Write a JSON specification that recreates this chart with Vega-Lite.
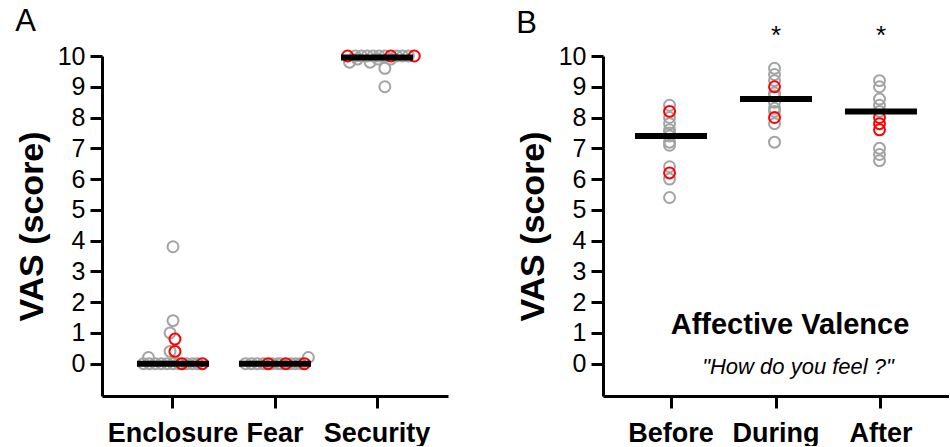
{
  "$schema": "https://vega.github.io/schema/vega-lite/v6.json",
  "padding": {"left": 15, "top": 6, "right": 0, "bottom": 0},
  "config": {
    "font": "Liberation Sans",
    "view": {"stroke": null},
    "axis": {
      "grid": false,
      "domainColor": "black",
      "domainWidth": 3,
      "tickColor": "black",
      "tickWidth": 3,
      "tickSize": 12,
      "labelColor": "black",
      "labelFont": "Liberation Sans",
      "titleColor": "black",
      "titleFont": "Liberation Sans"
    },
    "axisX": {"labelFontSize": 27, "labelFontWeight": "bold", "labelPadding": 12, "labelAngle": 0, "title": null},
    "axisY": {"labelFontSize": 25, "labelPadding": 5, "labelOverlap": false, "titleFontSize": 34, "titleFontWeight": "bold", "titlePadding": 8},
    "title": {"fontSize": 31, "fontWeight": "normal", "anchor": "start", "frame": "bounds", "color": "black", "font": "Liberation Sans"}
  },
  "spacing": 68,
  "hconcat": [
    {
      "width": 346,
      "height": 340,
      "title": {"text": "A", "offset": 6},
      "encoding": {
        "x": {"field": "cond", "type": "nominal", "sort": ["Enclosure", "Fear", "Security"], "scale": {"type": "band", "paddingInner": 0, "paddingOuter": 0.196}},
        "y": {"field": "v", "type": "quantitative", "scale": {"domain": [-1.05, 10], "nice": false, "zero": false}, "axis": {"values": [0, 1, 2, 3, 4, 5, 6, 7, 8, 9, 10], "tickCount": 11, "labelOverlap": false, "title": "VAS (score)"}}
      },
      "layer": [
        {
          "data": {"values": [
            {"cond": "Enclosure", "v": 3.8, "hl": "no", "j": 0},
            {"cond": "Enclosure", "v": 1.4, "hl": "no", "j": 0},
            {"cond": "Enclosure", "v": 1.0, "hl": "no", "j": -3},
            {"cond": "Enclosure", "v": 0.4, "hl": "no", "j": -3},
            {"cond": "Enclosure", "v": 0.2, "hl": "no", "j": -25},
            {"cond": "Enclosure", "v": 0, "hl": "no", "j": -30},
            {"cond": "Enclosure", "v": 0, "hl": "no", "j": -24},
            {"cond": "Enclosure", "v": 0, "hl": "no", "j": -18},
            {"cond": "Enclosure", "v": 0, "hl": "no", "j": -12},
            {"cond": "Enclosure", "v": 0, "hl": "no", "j": -6},
            {"cond": "Enclosure", "v": 0, "hl": "no", "j": 0},
            {"cond": "Enclosure", "v": 0, "hl": "no", "j": 6},
            {"cond": "Enclosure", "v": 0, "hl": "no", "j": 14},
            {"cond": "Enclosure", "v": 0, "hl": "no", "j": 20},
            {"cond": "Enclosure", "v": 0, "hl": "no", "j": 25},
            {"cond": "Fear", "v": 0.2, "hl": "no", "j": 34},
            {"cond": "Fear", "v": 0, "hl": "no", "j": -30},
            {"cond": "Fear", "v": 0, "hl": "no", "j": -24},
            {"cond": "Fear", "v": 0, "hl": "no", "j": -18},
            {"cond": "Fear", "v": 0, "hl": "no", "j": -12},
            {"cond": "Fear", "v": 0, "hl": "no", "j": -3},
            {"cond": "Fear", "v": 0, "hl": "no", "j": 3},
            {"cond": "Fear", "v": 0, "hl": "no", "j": 6},
            {"cond": "Fear", "v": 0, "hl": "no", "j": 16},
            {"cond": "Fear", "v": 0, "hl": "no", "j": 21},
            {"cond": "Fear", "v": 0, "hl": "no", "j": 26},
            {"cond": "Security", "v": 9.0, "hl": "no", "j": 8},
            {"cond": "Security", "v": 9.6, "hl": "no", "j": 8},
            {"cond": "Security", "v": 9.8, "hl": "no", "j": -7},
            {"cond": "Security", "v": 9.8, "hl": "no", "j": -28},
            {"cond": "Security", "v": 9.9, "hl": "no", "j": -20},
            {"cond": "Security", "v": 9.9, "hl": "no", "j": 1},
            {"cond": "Security", "v": 9.9, "hl": "no", "j": 14},
            {"cond": "Security", "v": 10, "hl": "no", "j": -22},
            {"cond": "Security", "v": 10, "hl": "no", "j": -16},
            {"cond": "Security", "v": 10, "hl": "no", "j": -10},
            {"cond": "Security", "v": 10, "hl": "no", "j": -4},
            {"cond": "Security", "v": 10, "hl": "no", "j": 2},
            {"cond": "Security", "v": 10, "hl": "no", "j": 8},
            {"cond": "Security", "v": 10, "hl": "no", "j": 20},
            {"cond": "Security", "v": 10, "hl": "no", "j": 26},
            {"cond": "Security", "v": 10, "hl": "no", "j": 32},
            {"cond": "Enclosure", "v": 0.8, "hl": "yes", "j": 2},
            {"cond": "Enclosure", "v": 0.4, "hl": "yes", "j": 2},
            {"cond": "Enclosure", "v": 0, "hl": "yes", "j": 9},
            {"cond": "Enclosure", "v": 0, "hl": "yes", "j": 30},
            {"cond": "Fear", "v": 0, "hl": "yes", "j": -7},
            {"cond": "Fear", "v": 0, "hl": "yes", "j": 11},
            {"cond": "Fear", "v": 0, "hl": "yes", "j": 30},
            {"cond": "Security", "v": 10, "hl": "yes", "j": -30},
            {"cond": "Security", "v": 10, "hl": "yes", "j": 14},
            {"cond": "Security", "v": 10, "hl": "yes", "j": 38}
          ]},
          "mark": {"type": "point", "shape": "circle", "filled": false, "size": 120, "strokeWidth": 2, "opacity": 1},
          "encoding": {
            "xOffset": {"field": "j", "type": "quantitative", "scale": {"domain": [-51, 51]}},
            "stroke": {"field": "hl", "type": "nominal", "scale": {"domain": ["no", "yes"], "range": ["#a3a3a3", "#ff0000"]}, "legend": null}
          }
        },
        {
          "data": {"values": [
            {"cond": "Enclosure", "v": 0},
            {"cond": "Fear", "v": 0},
            {"cond": "Security", "v": 9.95}
          ]},
          "mark": {"type": "tick", "color": "black", "thickness": 6, "size": 72, "opacity": 1},
          "encoding": {}
        }
      ]
    },
    {
      "width": 346,
      "height": 340,
      "title": {"text": "B", "offset": -17},
      "encoding": {
        "x": {"field": "cond", "type": "nominal", "sort": ["Before", "During", "After"], "scale": {"type": "band", "paddingInner": 0, "paddingOuter": 0.148}},
        "y": {"field": "v", "type": "quantitative", "scale": {"domain": [-1.05, 10], "nice": false, "zero": false}, "axis": {"values": [0, 1, 2, 3, 4, 5, 6, 7, 8, 9, 10], "tickCount": 11, "labelOverlap": false, "title": "VAS (score)"}}
      },
      "layer": [
        {
          "data": {"values": [
            {"cond": "Before", "v": 8.4, "hl": "no", "j": 0},
            {"cond": "Before", "v": 8.0, "hl": "no", "j": 0},
            {"cond": "Before", "v": 7.8, "hl": "no", "j": 0},
            {"cond": "Before", "v": 7.6, "hl": "no", "j": 0},
            {"cond": "Before", "v": 7.5, "hl": "no", "j": 0},
            {"cond": "Before", "v": 7.4, "hl": "no", "j": 0},
            {"cond": "Before", "v": 7.2, "hl": "no", "j": 0},
            {"cond": "Before", "v": 7.1, "hl": "no", "j": 0},
            {"cond": "Before", "v": 6.4, "hl": "no", "j": 0},
            {"cond": "Before", "v": 6.0, "hl": "no", "j": 0},
            {"cond": "Before", "v": 5.4, "hl": "no", "j": 0},
            {"cond": "During", "v": 9.6, "hl": "no", "j": 0},
            {"cond": "During", "v": 9.4, "hl": "no", "j": 0},
            {"cond": "During", "v": 9.2, "hl": "no", "j": 0},
            {"cond": "During", "v": 8.8, "hl": "no", "j": 0},
            {"cond": "During", "v": 8.7, "hl": "no", "j": 0},
            {"cond": "During", "v": 8.5, "hl": "no", "j": 0},
            {"cond": "During", "v": 8.3, "hl": "no", "j": 0},
            {"cond": "During", "v": 8.2, "hl": "no", "j": 0},
            {"cond": "During", "v": 7.8, "hl": "no", "j": 0},
            {"cond": "During", "v": 7.2, "hl": "no", "j": 0},
            {"cond": "After", "v": 9.2, "hl": "no", "j": 0},
            {"cond": "After", "v": 9.0, "hl": "no", "j": 0},
            {"cond": "After", "v": 8.6, "hl": "no", "j": 0},
            {"cond": "After", "v": 8.4, "hl": "no", "j": 0},
            {"cond": "After", "v": 8.2, "hl": "no", "j": 0},
            {"cond": "After", "v": 7.0, "hl": "no", "j": 0},
            {"cond": "After", "v": 6.8, "hl": "no", "j": 0},
            {"cond": "After", "v": 6.6, "hl": "no", "j": 0},
            {"cond": "Before", "v": 8.2, "hl": "yes", "j": 0},
            {"cond": "Before", "v": 6.2, "hl": "yes", "j": 0},
            {"cond": "During", "v": 9.0, "hl": "yes", "j": 0},
            {"cond": "During", "v": 8.0, "hl": "yes", "j": 0},
            {"cond": "After", "v": 8.0, "hl": "yes", "j": 0},
            {"cond": "After", "v": 7.8, "hl": "yes", "j": 0},
            {"cond": "After", "v": 7.6, "hl": "yes", "j": 0}
          ]},
          "mark": {"type": "point", "shape": "circle", "filled": false, "size": 120, "strokeWidth": 2, "opacity": 1},
          "encoding": {
            "xOffset": {"field": "j", "type": "quantitative", "scale": {"domain": [-52, 52]}},
            "stroke": {"field": "hl", "type": "nominal", "scale": {"domain": ["no", "yes"], "range": ["#a3a3a3", "#ff0000"]}, "legend": null}
          }
        },
        {
          "data": {"values": [
            {"cond": "Before", "v": 7.4},
            {"cond": "During", "v": 8.6},
            {"cond": "After", "v": 8.2}
          ]},
          "mark": {"type": "tick", "color": "black", "thickness": 6, "size": 72, "opacity": 1},
          "encoding": {}
        },
        {
          "data": {"values": [
            {"cond": "During", "v": 10.85, "label": "*"},
            {"cond": "After", "v": 10.85, "label": "*"}
          ]},
          "mark": {"type": "text", "fontSize": 26, "color": "black", "baseline": "middle", "dy": 6},
          "encoding": {"text": {"field": "label"}}
        },
        {
          "data": {"values": [
            {"cond": "During", "v": 1.25, "label": "Affective Valence"}
          ]},
          "mark": {"type": "text", "fontSize": 29, "fontWeight": "bold", "color": "black", "baseline": "middle", "dx": 14},
          "encoding": {"text": {"field": "label"}}
        },
        {
          "data": {"values": [
            {"cond": "During", "v": -0.1, "label": "\"How do you feel ?\""}
          ]},
          "mark": {"type": "text", "fontSize": 22, "fontStyle": "italic", "color": "black", "baseline": "middle", "dx": 22},
          "encoding": {"text": {"field": "label"}}
        }
      ]
    }
  ]
}
